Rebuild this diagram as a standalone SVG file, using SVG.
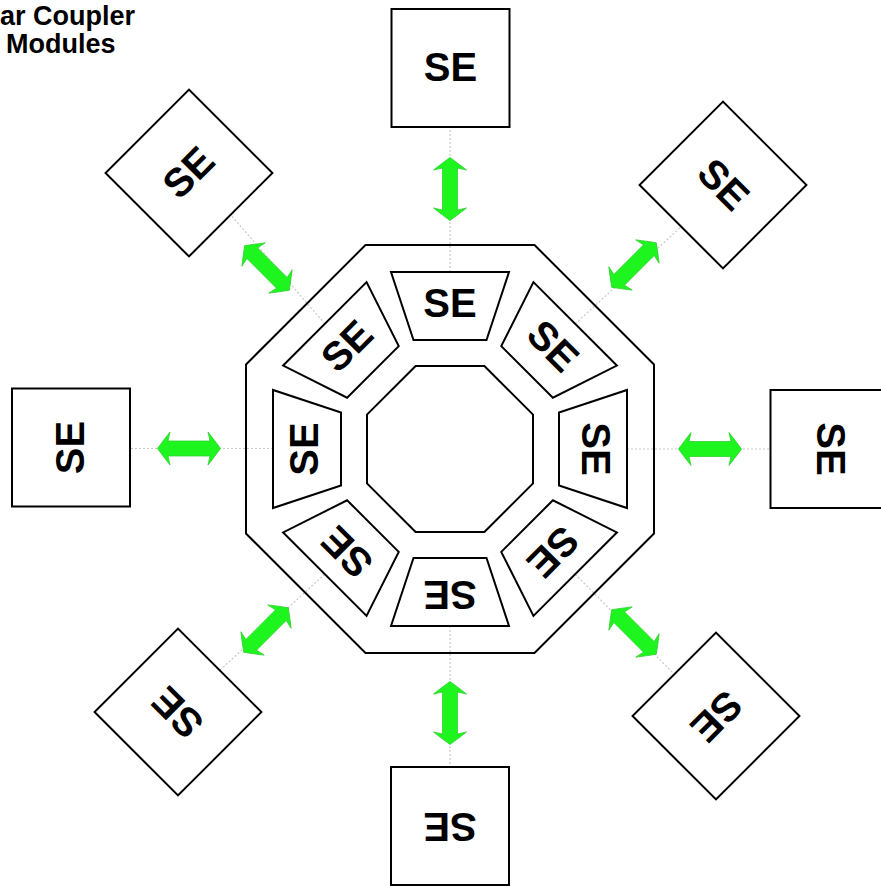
<svg xmlns="http://www.w3.org/2000/svg" xmlns:xlink="http://www.w3.org/1999/xlink" width="881" height="886" viewBox="0 0 881 886">
<style>
.ln{fill:none;stroke:#000;stroke-width:2;stroke-linejoin:miter}
.box{fill:#fff;stroke:#000;stroke-width:2}
.lbl{font-family:"Liberation Sans",Arial,sans-serif;font-weight:bold;font-size:40px;text-anchor:middle;fill:#000}
.ttl{font-family:"Liberation Sans",Arial,sans-serif;font-weight:bold;font-size:27px;fill:#000}
.dot{stroke:#c8c8c8;stroke-width:1.2;stroke-dasharray:2 2;fill:none}
.arw{fill:#1ef51e;stroke:#30d030;stroke-width:0.8}
</style>
<defs>
<path id="arr" d="M0,-31.5 Q9,-25 16.5,-19 L7.5,-21 L7.5,21 L16.5,19 Q9,25 0,31.5 Q-9,25 -16.5,19 L-7.5,21 L-7.5,-21 L-16.5,-19 Q-9,-25 0,-31.5 Z"/>
<rect id="sq" x="-59" y="-59" width="118" height="118"/>
<polygon id="trap" points="391,272 509,272 486.5,340 413.5,340"/>
</defs>
<rect width="881" height="886" fill="#fff"/>
<g id="title">
<text class="ttl" x="0" y="25">ar Coupler</text>
<text class="ttl" x="6" y="53">Modules</text>
</g>
<g id="connectors">
<line class="dot" x1="450" y1="272" x2="450" y2="127"/>
<line class="dot" x1="450" y1="626" x2="450" y2="767"/>
<line class="dot" x1="273" y1="448.5" x2="130" y2="448.5"/>
<line class="dot" x1="627" y1="449" x2="770" y2="449"/>
<line class="dot" x1="324.8" y1="323.8" x2="230.7" y2="214.7"/>
<line class="dot" x1="575.2" y1="323.8" x2="681.3" y2="226.7"/>
<line class="dot" x1="575.2" y1="574.2" x2="674.3" y2="674.3"/>
<line class="dot" x1="324.8" y1="574.2" x2="219.7" y2="670.3"/>
<use xlink:href="#arr" class="arw" transform="translate(450,189)"/>
<use xlink:href="#arr" class="arw" transform="translate(634,265) rotate(45)"/>
<use xlink:href="#arr" class="arw" transform="translate(710,449) rotate(90)"/>
<use xlink:href="#arr" class="arw" transform="translate(634,632) rotate(135)"/>
<use xlink:href="#arr" class="arw" transform="translate(450,713)"/>
<use xlink:href="#arr" class="arw" transform="translate(266,630) rotate(45)"/>
<use xlink:href="#arr" class="arw" transform="translate(189,448.5) rotate(90)"/>
<use xlink:href="#arr" class="arw" transform="translate(267,268) rotate(135)"/>
</g>
<g id="outer-ring">
<polygon class="ln" points="365.5,245 534.5,245 654,364.5 654,533.5 534.5,653 365.5,653 246,533.5 246,364.5"/>
<polygon class="ln" points="415.6,366 484.4,366 533,414.6 533,483.4 484.4,532 415.6,532 367,483.4 367,414.6"/>
</g>
<g id="inner-se-0"><use xlink:href="#trap" class="box"/><text class="lbl" x="450" y="317">SE</text></g>
<g id="inner-se-45" transform="rotate(45 450 449)"><use xlink:href="#trap" class="box"/><text class="lbl" x="450" y="317">SE</text></g>
<g id="inner-se-90" transform="rotate(90 450 449)"><use xlink:href="#trap" class="box"/><text class="lbl" x="450" y="317">SE</text></g>
<g id="inner-se-135" transform="rotate(135 450 449)"><use xlink:href="#trap" class="box"/><text class="lbl" x="450" y="317">SE</text></g>
<g id="inner-se-180" transform="rotate(180 450 449)"><use xlink:href="#trap" class="box"/><text class="lbl" x="450" y="317">SE</text></g>
<g id="inner-se-225" transform="rotate(225 450 449)"><use xlink:href="#trap" class="box"/><text class="lbl" x="450" y="317">SE</text></g>
<g id="inner-se-270" transform="rotate(270 450 449)"><use xlink:href="#trap" class="box"/><text class="lbl" x="450" y="317">SE</text></g>
<g id="inner-se-315" transform="rotate(315 450 449)"><use xlink:href="#trap" class="box"/><text class="lbl" x="450" y="317">SE</text></g>
<g id="se-top" transform="translate(450.5,68)"><use xlink:href="#sq" class="box"/><text class="lbl" x="0" y="13">SE</text></g>
<g id="se-topright" transform="translate(723,185) rotate(45)"><use xlink:href="#sq" class="box"/><text class="lbl" x="0" y="13">SE</text></g>
<g id="se-right" transform="translate(829.5,449) rotate(90)"><use xlink:href="#sq" class="box"/><text class="lbl" x="0" y="13">SE</text></g>
<g id="se-bottomright" transform="translate(716,716) rotate(135)"><use xlink:href="#sq" class="box"/><text class="lbl" x="0" y="13">SE</text></g>
<g id="se-bottom" transform="translate(450,826) rotate(180)"><use xlink:href="#sq" class="box"/><text class="lbl" x="0" y="13">SE</text></g>
<g id="se-bottomleft" transform="translate(178,712) rotate(225)"><use xlink:href="#sq" class="box"/><text class="lbl" x="0" y="13">SE</text></g>
<g id="se-left" transform="translate(71,447.5) rotate(270)"><use xlink:href="#sq" class="box"/><text class="lbl" x="0" y="13">SE</text></g>
<g id="se-topleft" transform="translate(189,173) rotate(315)"><use xlink:href="#sq" class="box"/><text class="lbl" x="0" y="13">SE</text></g>
</svg>
